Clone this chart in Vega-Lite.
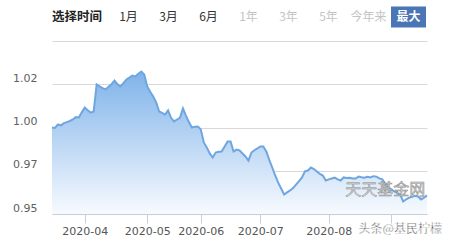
{
  "$schema": "https://vega.github.io/schema/vega-lite/v6.json",
  "width": 375,
  "height": 173,
  "autosize": {"type": "none"},
  "padding": {"left": 52, "top": 41, "right": 22, "bottom": 28},
  "background": "#ffffff",
  "config": {"view": {"stroke": null}},
  "datasets": {
    "nav": [
      {"d":"2020-03-17","v":1.0000},{"d":"2020-03-18","v":0.9998},{"d":"2020-03-19","v":1.0014},{"d":"2020-03-20","v":1.0010},{"d":"2020-03-23","v":1.0020},{"d":"2020-03-24","v":1.0025},{"d":"2020-03-25","v":1.0030},{"d":"2020-03-26","v":1.0037},{"d":"2020-03-27","v":1.0048},{"d":"2020-03-30","v":1.0046},{"d":"2020-03-31","v":1.0070},
      {"d":"2020-04-01","v":1.0092},{"d":"2020-04-02","v":1.0080},{"d":"2020-04-03","v":1.0069},{"d":"2020-04-07","v":1.0074},{"d":"2020-04-08","v":1.0199},{"d":"2020-04-09","v":1.0190},{"d":"2020-04-10","v":1.0182},{"d":"2020-04-13","v":1.0176},{"d":"2020-04-14","v":1.0188},{"d":"2020-04-15","v":1.0200},{"d":"2020-04-16","v":1.0217},{"d":"2020-04-17","v":1.0200},{"d":"2020-04-20","v":1.0190},{"d":"2020-04-21","v":1.0205},{"d":"2020-04-22","v":1.0222},{"d":"2020-04-23","v":1.0231},{"d":"2020-04-24","v":1.0240},{"d":"2020-04-27","v":1.0236},{"d":"2020-04-28","v":1.0248},{"d":"2020-04-29","v":1.0259},{"d":"2020-04-30","v":1.0245},
      {"d":"2020-05-06","v":1.0190},{"d":"2020-05-07","v":1.0165},{"d":"2020-05-08","v":1.0143},{"d":"2020-05-11","v":1.0116},{"d":"2020-05-12","v":1.0074},{"d":"2020-05-13","v":1.0068},{"d":"2020-05-14","v":1.0060},{"d":"2020-05-15","v":1.0079},{"d":"2020-05-18","v":1.0045},{"d":"2020-05-19","v":1.0028},{"d":"2020-05-20","v":1.0037},{"d":"2020-05-21","v":1.0045},{"d":"2020-05-22","v":1.0088},{"d":"2020-05-25","v":1.0055},{"d":"2020-05-26","v":1.0025},{"d":"2020-05-27","v":1.0000},{"d":"2020-05-28","v":1.0004},{"d":"2020-05-29","v":1.0005},
      {"d":"2020-06-01","v":0.9991},{"d":"2020-06-02","v":0.9931},{"d":"2020-06-03","v":0.9908},{"d":"2020-06-04","v":0.9880},{"d":"2020-06-05","v":0.9861},{"d":"2020-06-08","v":0.9884},{"d":"2020-06-09","v":0.9888},{"d":"2020-06-10","v":0.9889},{"d":"2020-06-11","v":0.9912},{"d":"2020-06-12","v":0.9935},{"d":"2020-06-15","v":0.9935},{"d":"2020-06-16","v":0.9889},{"d":"2020-06-17","v":0.9898},{"d":"2020-06-18","v":0.9894},{"d":"2020-06-19","v":0.9880},{"d":"2020-06-22","v":0.9866},{"d":"2020-06-23","v":0.9847},{"d":"2020-06-24","v":0.9884},{"d":"2020-06-29","v":0.9895},{"d":"2020-06-30","v":0.9903},
      {"d":"2020-07-01","v":0.9912},{"d":"2020-07-02","v":0.9912},{"d":"2020-07-03","v":0.9889},{"d":"2020-07-06","v":0.9850},{"d":"2020-07-07","v":0.9815},{"d":"2020-07-08","v":0.9778},{"d":"2020-07-09","v":0.9745},{"d":"2020-07-10","v":0.9718},{"d":"2020-07-13","v":0.9690},{"d":"2020-07-14","v":0.9700},{"d":"2020-07-15","v":0.9709},{"d":"2020-07-16","v":0.9720},{"d":"2020-07-17","v":0.9736},{"d":"2020-07-20","v":0.9752},{"d":"2020-07-21","v":0.9769},{"d":"2020-07-22","v":0.9797},{"d":"2020-07-23","v":0.9801},{"d":"2020-07-24","v":0.9815},{"d":"2020-07-27","v":0.9808},{"d":"2020-07-28","v":0.9797},{"d":"2020-07-29","v":0.9785},{"d":"2020-07-30","v":0.9778},{"d":"2020-07-31","v":0.9755},
      {"d":"2020-08-03","v":0.9760},{"d":"2020-08-04","v":0.9764},{"d":"2020-08-05","v":0.9768},{"d":"2020-08-06","v":0.9760},{"d":"2020-08-07","v":0.9755},{"d":"2020-08-10","v":0.9769},{"d":"2020-08-11","v":0.9766},{"d":"2020-08-12","v":0.9768},{"d":"2020-08-13","v":0.9764},{"d":"2020-08-14","v":0.9764},{"d":"2020-08-17","v":0.9773},{"d":"2020-08-18","v":0.9770},{"d":"2020-08-19","v":0.9768},{"d":"2020-08-20","v":0.9772},{"d":"2020-08-21","v":0.9769},{"d":"2020-08-24","v":0.9775},{"d":"2020-08-25","v":0.9773},{"d":"2020-08-26","v":0.9765},{"d":"2020-08-27","v":0.9760},{"d":"2020-08-28","v":0.9740},{"d":"2020-08-31","v":0.9725},
      {"d":"2020-09-01","v":0.9713},{"d":"2020-09-02","v":0.9705},{"d":"2020-09-03","v":0.9698},{"d":"2020-09-04","v":0.9690},{"d":"2020-09-07","v":0.9658},{"d":"2020-09-08","v":0.9668},{"d":"2020-09-09","v":0.9676},{"d":"2020-09-10","v":0.9680},{"d":"2020-09-11","v":0.9684},{"d":"2020-09-14","v":0.9681},{"d":"2020-09-15","v":0.9667},{"d":"2020-09-16","v":0.9675},{"d":"2020-09-17","v":0.9686}
    ],
    "btn": [
      {"t":"1月","s":"on"},{"t":"3月","s":"on"},{"t":"6月","s":"on"},{"t":"1年","s":"off"},{"t":"3年","s":"off"},{"t":"5年","s":"off"},{"t":"今年来","s":"off"},{"t":"最大","s":"sel"}
    ]
  },
  "layer": [
    {
      "layer": [
        {
          "data": {"name": "nav"},
          "mark": {"type": "area", "color": {"gradient": "linear", "x1": 0, "y1": 0, "x2": 0, "y2": 1, "stops": [{"offset": 0, "color": "#7fb3ea"}, {"offset": 1, "color": "#f7fafe"}]}},
          "encoding": {
            "x": {"field": "d", "type": "ordinal", "scale": {"type": "point", "padding": 0},
              "axis": {"values": ["2020-04-01","2020-05-06","2020-06-01","2020-07-01","2020-08-03","2020-09-01"],
                "labelExpr": "slice(datum.value,0,7) == '2020-09' ? '' : slice(datum.value,0,7)",
                "labelAngle": 0, "tickSize": 9, "tickColor": "#c0d0e0", "domainColor": "#c0d0e0", "labelColor": "#555555",
                "labelFont": "DejaVu Sans", "labelFontSize": 11, "labelPadding": 2, "title": null, "grid": false, "labelOverlap": false}},
            "y": {"field": "v", "type": "quantitative", "scale": {"domain": [0.96, 1.04], "zero": false, "nice": false},
              "axis": {"values": [0.96, 0.98, 1.0, 1.02, 1.04],
                "labelExpr": "datum.value < 0.97 ? '0.95' : datum.value < 0.99 ? '0.97' : datum.value < 1.01 ? '1.00' : datum.value < 1.03 ? '1.02' : ''",
                "ticks": false, "tickSize": 0, "domain": false, "gridColor": "#d8d8d8", "labelPadding": 15, "labelOffset": -6,
                "labelColor": "#606060", "labelFont": "DejaVu Sans", "labelFontSize": 11, "title": null}},
            "y2": {"datum": 0.96}
          }
        },
        {
          "data": {"name": "nav"},
          "mark": {"type": "line", "color": "#6fa6e0", "strokeWidth": 2},
          "encoding": {
            "x": {"field": "d", "type": "ordinal"},
            "y": {"field": "v", "type": "quantitative"}
          }
        },
        {
          "data": {"values": [{"w": "天天基金网"}]},
          "mark": {"type": "text", "font": "Noto Sans CJK SC", "fontSize": 16, "fill": "#d4d4d4", "stroke": "#8c8c8c", "strokeWidth": 0.5, "align": "center", "baseline": "middle"},
          "encoding": {
            "x": {"datum": "2020-08-28", "type": "ordinal"},
            "y": {"datum": 0.9711, "type": "quantitative"},
            "text": {"field": "w"}
          }
        },
        {
          "data": {"values": [{"w": "头条@基民柠檬"}]},
          "mark": {"type": "text", "font": "Noto Sans CJK SC", "fontSize": 12, "fill": "#333333", "stroke": "#ffffff", "strokeWidth": 0.4, "align": "center", "baseline": "middle"},
          "encoding": {
            "x": {"datum": "2020-09-04", "type": "ordinal"},
            "y": {"datum": 0.9531, "type": "quantitative"},
            "text": {"field": "w"}
          }
        },
        {
          "data": {"values": [{"w": "选择时间"}]},
          "mark": {"type": "text", "font": "Noto Sans CJK SC", "fontSize": 12.5, "fontWeight": "bold", "fill": "#222222", "align": "left", "baseline": "middle"},
          "encoding": {
            "x": {"datum": "2020-03-17", "type": "ordinal"},
            "y": {"datum": 1.0511, "type": "quantitative"},
            "text": {"field": "w"}
          }
        }
      ]
    },
    {
      "data": {"name": "btn"},
      "encoding": {
        "x": {"field": "t", "type": "nominal", "scale": {"type": "point", "padding": 0, "domain": ["1月","3月","6月","1年","3年","5年","今年来","最大"], "range": [76.5, 356.5]}, "axis": null},
        "y": {"datum": 1.0511, "type": "quantitative"}
      },
      "layer": [
        {
          "transform": [{"filter": "datum.s == 'sel'"}],
          "mark": {"type": "rect", "width": 35, "height": 21, "color": "#4a76b6"}
        },
        {
          "transform": [{"filter": "datum.s != 'sel'"}],
          "mark": {"type": "text", "font": "Noto Sans CJK SC", "fontSize": 12, "align": "center", "baseline": "middle"},
          "encoding": {
            "text": {"field": "t"},
            "color": {"field": "s", "type": "nominal", "scale": {"domain": ["on", "off"], "range": ["#333333", "#c4c4c4"]}, "legend": null}
          }
        },
        {
          "transform": [{"filter": "datum.s == 'sel'"}],
          "mark": {"type": "text", "font": "Noto Sans CJK SC", "fontSize": 12, "fontWeight": "bold", "color": "#ffffff", "align": "center", "baseline": "middle"},
          "encoding": {"text": {"field": "t"}}
        }
      ]
    }
  ],
  "resolve": {"scale": {"x": "independent"}}
}
